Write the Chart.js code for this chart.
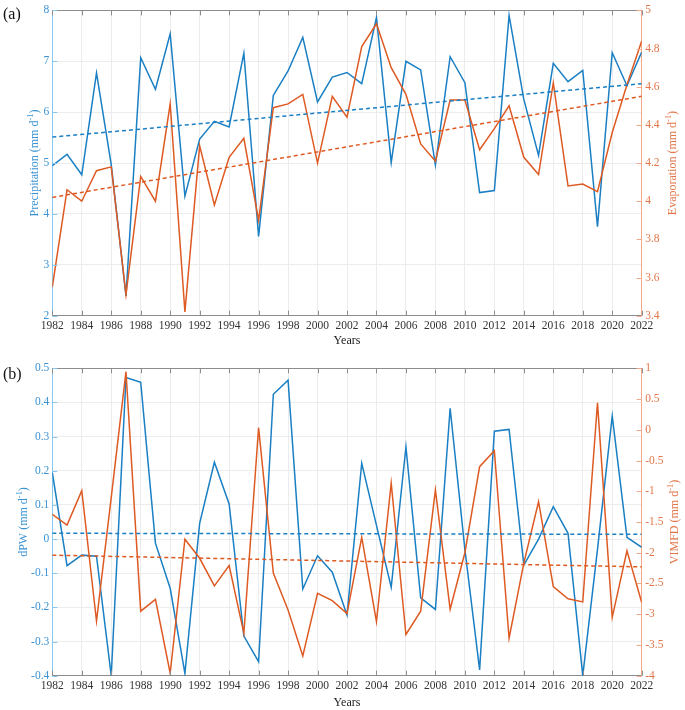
<!DOCTYPE html>
<html><head><meta charset="utf-8">
<script src="https://cdn.jsdelivr.net/npm/chart.js@4.4.0/dist/chart.umd.min.js"></script>
<style>
html,body{margin:0;padding:0;background:#fff;}
#wrap{position:relative;width:685px;height:710px;overflow:hidden;background:#fff;}
canvas{position:absolute;left:0;}
.lab{position:absolute;font-family:"Liberation Serif",serif;font-size:16px;color:#111;line-height:16px;}
</style></head><body>
<div id="wrap">
<canvas id="c1" width="685" height="348" style="top:0;width:685px;height:348px"></canvas>
<canvas id="c2" width="685" height="360" style="top:350px;width:685px;height:360px"></canvas>
<div class="lab" style="left:3px;top:6px">(a)</div>
<div class="lab" style="left:3px;top:366px">(b)</div>
</div>
<script>
// ---------- data ----------
const years = [1982,1983,1984,1985,1986,1987,1988,1989,1990,1991,1992,1993,1994,1995,1996,1997,1998,1999,2000,2001,2002,2003,2004,2005,2006,2007,2008,2009,2010,2011,2012,2013,2014,2015,2016,2017,2018,2019,2020,2021,2022];
const precipitation = [4.95,5.17,4.77,6.77,4.97,2.39,7.07,6.45,7.54,4.35,5.47,5.82,5.71,7.16,3.56,6.33,6.81,7.47,6.2,6.69,6.78,6.56,7.86,5.01,7.0,6.83,4.96,7.09,6.58,4.42,4.46,7.9,6.25,5.15,6.96,6.6,6.82,3.75,7.17,6.52,7.18];
const evaporation = [3.55,4.06,4.0,4.16,4.18,3.51,4.13,4.0,4.51,3.42,4.29,3.98,4.23,4.33,3.9,4.49,4.51,4.56,4.2,4.55,4.44,4.81,4.93,4.70,4.56,4.30,4.21,4.53,4.53,4.27,4.38,4.50,4.23,4.14,4.62,4.08,4.09,4.05,4.36,4.61,4.84];
const dPW = [0.195,-0.078,-0.047,-0.05,-0.4,0.473,0.459,-0.012,-0.144,-0.393,0.046,0.225,0.103,-0.284,-0.359,0.424,0.465,-0.146,-0.049,-0.097,-0.222,0.222,0.04,-0.141,0.27,-0.172,-0.206,0.383,-0.03,-0.383,0.316,0.321,-0.076,0.0,0.095,0.017,-0.4,-0.03,0.36,0.005,-0.024];
const VIMFD = [-1.375,-1.55,-0.99,-3.11,-1.1,0.945,-2.95,-2.76,-3.96,-1.78,-2.09,-2.54,-2.21,-3.31,0.034,-2.33,-2.93,-3.68,-2.66,-2.78,-2.99,-1.75,-3.12,-0.87,-3.33,-2.95,-0.98,-2.92,-2.0,-0.6,-0.34,-3.39,-2.17,-1.17,-2.55,-2.75,-2.8,0.44,-3.05,-1.97,-2.81];
// trend lines (values read at 1982 and 2022)
const trendYears = [1982, 2022];
const precipTrend = [5.51, 6.56];
const evapTrend = [4.02, 4.55];
const dPWTrend = [0.017, 0.014];
const VIMFDTrend = [-2.04, -2.23];
// tick / axis settings
const xTicks = {min:1982, max:2022, step:2};
const axA = {left:{min:2,max:8,step:1}, right:{min:3.4,max:5,step:0.2}};
const axB = {left:{min:-0.4,max:0.5,step:0.1}, right:{min:-4,max:1,step:0.5}};

// ---------- style ----------
const BLUE = '#1a7fc3', ORANGE = '#de5a23';
const LBLUE_TXT = '#3b93d3', LBLUE_AX = '#86c8ee';
const LOR_TXT = '#e2764a', LOR_AX = '#f2a98a';
const GRAYAX = '#8c8c8c';
const FONT = '"Liberation Serif", "Times New Roman", serif';

function pts(xs, ys){ return xs.map((x,i)=>({x:x, y:ys[i]})); }
function fmt(v){ return String(parseFloat(Number(v).toFixed(2))); }

function drawSup(ctx, parts, size){
  // measure
  let w = 0;
  parts.forEach(p=>{ ctx.font = (p.sup? size*0.7 : size)+'px '+FONT; p.w = ctx.measureText(p.t).width; w += p.w; });
  let x = -w/2;
  parts.forEach(p=>{
    ctx.font = (p.sup? size*0.7 : size)+'px '+FONT;
    ctx.fillText(p.t, x, p.sup ? -size*0.38 : 0);
    x += p.w;
  });
}

const framePlugin = {
  id:'frame',
  afterDraw(chart, args, o){
    const {ctx, chartArea:a, scales} = chart;
    ctx.save();
    ctx.lineWidth = 1;
    // top border
    ctx.strokeStyle = GRAYAX;
    ctx.beginPath(); ctx.moveTo(a.left, Math.round(a.top)+0.5); ctx.lineTo(a.right, Math.round(a.top)+0.5); ctx.stroke();
    const L = 5;
    // x inward ticks
    scales.x.ticks.forEach(t=>{
      const px = Math.round(scales.x.getPixelForValue(t.value))+0.5;
      ctx.beginPath();
      ctx.moveTo(px, a.bottom); ctx.lineTo(px, a.bottom-L);
      ctx.moveTo(px, a.top); ctx.lineTo(px, a.top+L);
      ctx.stroke();
    });
    ctx.strokeStyle = LBLUE_AX;
    scales.y.ticks.forEach(t=>{
      const py = Math.round(scales.y.getPixelForValue(t.value))+0.5;
      ctx.beginPath(); ctx.moveTo(a.left, py); ctx.lineTo(a.left+L, py); ctx.stroke();
    });
    ctx.strokeStyle = LOR_AX;
    scales.y1.ticks.forEach(t=>{
      const py = Math.round(scales.y1.getPixelForValue(t.value))+0.5;
      ctx.beginPath(); ctx.moveTo(a.right, py); ctx.lineTo(a.right-L, py); ctx.stroke();
    });
    // axis titles
    const cy = (a.top + a.bottom)/2;
    ctx.textAlign = 'left'; ctx.textBaseline = 'middle';
    ctx.fillStyle = LBLUE_TXT;
    ctx.save(); ctx.translate(o.leftX, cy); ctx.rotate(-Math.PI/2);
    drawSup(ctx, [{t:o.leftTitle+' (mm d'},{t:'-1',sup:true},{t:')'}], 12); ctx.restore();
    ctx.fillStyle = LOR_TXT;
    ctx.save(); ctx.translate(o.rightX, cy); ctx.rotate(-Math.PI/2);
    drawSup(ctx, [{t:o.rightTitle+' (mm d'},{t:'-1',sup:true},{t:')'}], 12); ctx.restore();
    ctx.restore();
  }
};

function makeChart(id, leftData, rightData, leftTrend, rightTrend, ax, padTop, xHeight, titles){
  return new Chart(document.getElementById(id), {
    type:'line',
    data:{ datasets:[
      {data:pts(years,leftData), yAxisID:'y', borderColor:BLUE, borderWidth:1.5, pointRadius:0, tension:0, order:2},
      {data:pts(years,rightData), yAxisID:'y1', borderColor:ORANGE, borderWidth:1.5, pointRadius:0, tension:0, order:1},
      {data:pts(trendYears,leftTrend), yAxisID:'y', borderColor:BLUE, borderWidth:1.5, borderDash:[4,3], pointRadius:0, order:0},
      {data:pts(trendYears,rightTrend), yAxisID:'y1', borderColor:ORANGE, borderWidth:1.5, borderDash:[4,3], pointRadius:0, order:0}
    ]},
    options:{
      responsive:false, animation:false, events:[],
      layout:{padding:{top:padTop,left:0,right:0,bottom:0}},
      plugins:{legend:{display:false}, tooltip:{enabled:false},
        frame:titles},
      scales:{
        x:{type:'linear', min:xTicks.min, max:xTicks.max,
          ticks:{stepSize:xTicks.step, color:'#333', padding:3.5, font:{family:FONT,size:11.5}, maxRotation:0, autoSkip:false, callback:v=>String(v)},
          grid:{color:'#ececec', drawTicks:false},
          border:{color:GRAYAX},
          title:{display:true, text:'Years', color:'#222', font:{family:FONT,size:12}, padding:0},
          afterFit(s){ s.height = xHeight; }
        },
        y:{position:'left', min:ax.left.min, max:ax.left.max,
          ticks:{stepSize:ax.left.step, color:LBLUE_TXT, padding:3, font:{family:FONT,size:11.5}, callback:fmt},
          grid:{color:'#ececec', drawTicks:false},
          border:{color:LBLUE_AX},
          afterFit(s){ s.width = 52.3; }
        },
        y1:{position:'right', min:ax.right.min, max:ax.right.max,
          ticks:{stepSize:ax.right.step, color:LOR_TXT, padding:3.5, font:{family:FONT,size:11.5}, callback:fmt},
          grid:{drawOnChartArea:false, drawTicks:false},
          border:{color:LOR_AX},
          afterFit(s){ s.width = 43.3; }
        }
      }
    },
    plugins:[framePlugin]
  });
}

makeChart('c1', precipitation, evaporation, precipTrend, evapTrend, axA, 7.5, 32.3,
  {leftTitle:'Precipitation', rightTitle:'Evaporation', leftX:35, rightX:673});
makeChart('c2', dPW, VIMFD, dPWTrend, VIMFDTrend, axB, 18.3, 34.3,
  {leftTitle:'dPW', rightTitle:'VIMFD', leftX:24, rightX:675});
</script>
</body></html>
